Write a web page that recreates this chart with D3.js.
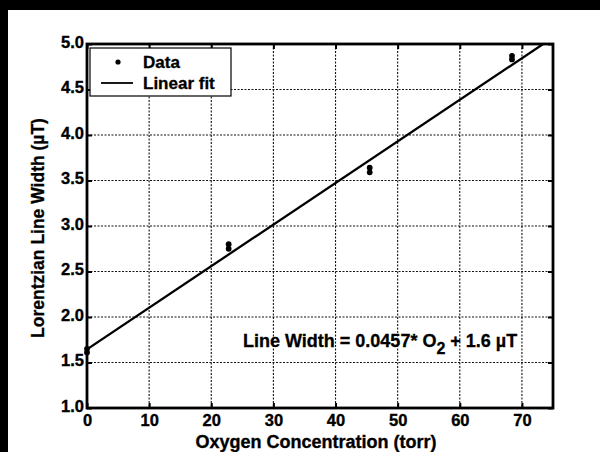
<!DOCTYPE html>
<html><head><meta charset="utf-8">
<script src="https://cdn.jsdelivr.net/npm/d3@7"></script>
<style>html,body{margin:0;padding:0;background:#fff;}svg{display:block;}</style>
</head><body>
<svg id="c" width="600" height="452"></svg>
<script>
const dataX = [0, 0, 22.8, 22.8, 45.5, 45.5, 68.4, 68.4];
const dataY = [1.61, 1.65, 2.75, 2.80, 3.59, 3.64, 4.83, 4.87];
const fitSlope = 0.0457;
const fitIntercept = 1.645;
const xTicks = [0, 10, 20, 30, 40, 50, 60, 70];
const yTicks = [1.0, 1.5, 2.0, 2.5, 3.0, 3.5, 4.0, 4.5, 5.0];

const svg = d3.select("#c");
const font = "'Liberation Sans', Arial, Helvetica, sans-serif";
svg.append("rect").attr("x",0).attr("y",0).attr("width",600).attr("height",10).attr("fill","#000");
svg.append("rect").attr("x",0).attr("y",0).attr("width",8).attr("height",452).attr("fill","#000");

const L = 87, R = 553, T = 44, B = 408;
const x = d3.scaleLinear().domain([0, 75]).range([L, R]);
const y = d3.scaleLinear().domain([1, 5]).range([B, T]);

const g = svg.append("g");
g.selectAll(".gx").data(xTicks.filter(d=>d>0)).join("line")
  .attr("x1", d=>x(d)).attr("x2", d=>x(d)).attr("y1", T).attr("y2", B)
  .attr("stroke","#111").attr("stroke-width",1.1).attr("stroke-dasharray","2,1.5");
g.selectAll(".gy").data(yTicks.filter(d=>d>1 && d<5)).join("line")
  .attr("y1", d=>y(d)).attr("y2", d=>y(d)).attr("x1", L).attr("x2", R)
  .attr("stroke","#111").attr("stroke-width",1.1).attr("stroke-dasharray","2,1.5");

const ax = svg.append("g").attr("transform",`translate(0,${B})`)
  .call(d3.axisBottom(x).tickValues(xTicks).tickSize(-5).tickPadding(9).tickFormat(d3.format("d")));
const ay = svg.append("g").attr("transform",`translate(${L},0)`)
  .call(d3.axisLeft(y).tickValues(yTicks).tickSize(-5).tickPadding(3).tickFormat(d3.format(".1f")));
const axT = svg.append("g").attr("transform",`translate(0,${T})`)
  .call(d3.axisTop(x).tickValues(xTicks).tickSize(-5).tickFormat(""));
const ayR = svg.append("g").attr("transform",`translate(${R},0)`)
  .call(d3.axisRight(y).tickValues(yTicks).tickSize(-5).tickFormat(""));
[ax, ay, axT, ayR].forEach(a => {
  a.select(".domain").remove();
  a.selectAll(".tick line").attr("stroke","#000").attr("stroke-width",2);
  a.selectAll("text").attr("font-family",font).attr("font-weight","bold")
    .attr("font-size",16.5).attr("fill","#000").attr("stroke","#000").attr("stroke-width",0.35);
});
ax.selectAll("text").attr("dy","0.55em");
ay.selectAll("text").attr("dy","0.2em");

svg.append("rect").attr("x",L).attr("y",T).attr("width",R-L).attr("height",B-T)
  .attr("fill","none").attr("stroke","#000").attr("stroke-width",2.8);

svg.append("clipPath").attr("id","clp").append("rect").attr("x",L).attr("y",T).attr("width",R-L).attr("height",B-T);
const xEnd = (5 - fitIntercept) / fitSlope;
svg.append("line").attr("clip-path","url(#clp)")
  .attr("x1", x(0)).attr("y1", y(fitIntercept))
  .attr("x2", x(xEnd)).attr("y2", y(fitIntercept + fitSlope*xEnd))
  .attr("stroke","#000").attr("stroke-width",2.3);

svg.selectAll(".pt").data(dataX.map((d,i)=>[d,dataY[i]])).join("circle")
  .attr("cx", d=>x(d[0])).attr("cy", d=>y(d[1])).attr("r",2.9).attr("fill","#000");

const lg = svg.append("g");
lg.append("rect").attr("x",90).attr("y",48).attr("width",141).attr("height",48)
  .attr("fill","#fff").attr("stroke","#000").attr("stroke-width",1.2);
lg.append("circle").attr("cx",118).attr("cy",62).attr("r",2.6).attr("fill","#000");
lg.append("line").attr("x1",101).attr("x2",133).attr("y1",83).attr("y2",83).attr("stroke","#000").attr("stroke-width",1.8);
[["Data",68],["Linear fit",89]].forEach(([t,yy]) => {
  lg.append("text").attr("x",143).attr("y",yy).text(t)
    .attr("font-family",font).attr("font-weight","bold").attr("font-size",17)
    .attr("stroke","#000").attr("stroke-width",0.3);
});

const an = svg.append("text").attr("x",243).attr("y",347)
  .attr("font-family",font).attr("font-weight","bold").attr("font-size",18).attr("fill","#000")
  .attr("stroke","#000").attr("stroke-width",0.3);
an.append("tspan").text("Line Width = 0.0457* O");
an.append("tspan").attr("dy",7).attr("font-size",16).text("2");
an.append("tspan").attr("dy",-7).text(" + 1.6 \u00B5T");

svg.append("text").attr("x",316).attr("y",447.5).attr("text-anchor","middle")
  .attr("font-family",font).attr("font-weight","bold").attr("font-size",18)
  .attr("stroke","#000").attr("stroke-width",0.35).text("Oxygen Concentration (torr)");
svg.append("text").attr("transform",`translate(44,${(T+B)/2+2}) rotate(-90)`).attr("text-anchor","middle")
  .attr("font-family",font).attr("font-weight","bold").attr("font-size",17.5)
  .attr("stroke","#000").attr("stroke-width",0.3).text("Lorentzian Line Width (\u00B5T)");
</script>
</body></html>
